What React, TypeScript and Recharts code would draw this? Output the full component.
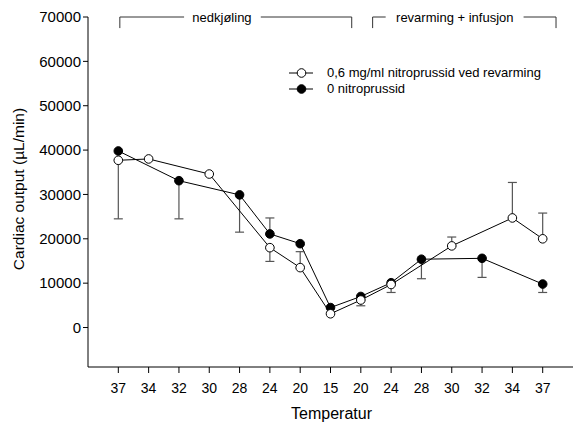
import {
  ComposedChart,
  Line,
  XAxis,
  YAxis,
  ErrorBar,
  ReferenceLine,
  ReferenceDot,
  Legend,
  Label,
} from "recharts"

const FONT = '"Liberation Sans", Arial, sans-serif'
const ERR_COLOR = "#555"

// temperature steps: cooling down to 15, then rewarming
const temps = ["37", "34", "32", "30", "28", "24", "20", "15", "20", "24", "28", "30", "32", "34", "37"]

const nitroName = "0,6 mg/ml nitroprussid ved revarming"
const controlName = "0 nitroprussid"

const nitroValues = [37700, 38000, null, 34600, null, 18000, 13500, 3100, 6200, 9700, null, 18400, null, 24700, 20000]
const controlValues = [39800, null, 33100, null, 29900, 21100, 18900, 4500, 7000, 10100, 15400, null, 15600, null, 9800]

// [down, up]
const nitroErr = [[13200, 0], null, null, null, null, [3100, 0], [0, 3600], null, [1300, 0], [1800, 0], null, [0, 2000], null, [0, 8000], [0, 5800]]
const controlErr = [null, null, [8600, 0], null, [8400, 0], [0, 3600], null, null, null, null, [4400, 0], null, [4300, 0], null, [1900, 0]]

const yTicks = [0, 10000, 20000, 30000, 40000, 50000, 60000, 70000]
const xTicks = temps.map((_, i) => i)

const data = temps.map((t, i) => ({
  i,
  temp: t,
  nitro: nitroValues[i],
  control: controlValues[i],
  nitroErr: nitroErr[i],
  controlErr: controlErr[i],
}))

function LegendBox() {
  const rows = [
    { name: nitroName, fill: "#fff" },
    { name: controlName, fill: "#000" },
  ]
  return (
    <div style={{ fontFamily: FONT, fontSize: 13, color: "#000", lineHeight: "16px" }}>
      {rows.map((r) => (
        <div key={r.name} style={{ display: "flex", alignItems: "center", whiteSpace: "nowrap" }}>
          <svg width={40} height={16}>
            <line x1={2} y1={8} x2={26} y2={8} stroke="#000" strokeWidth={1} />
            <circle cx={14.5} cy={8} r={4.3} fill={r.fill} stroke="#000" strokeWidth={1} />
          </svg>
          <span>{r.name}</span>
        </div>
      ))}
    </div>
  )
}

export default function App() {
  return (
    <div style={{ position: "absolute", left: 0, top: 0, width: 573, height: 428, background: "#fff", fontFamily: FONT }}>
      <ComposedChart width={573} height={428} data={data} margin={{ top: 17, right: 0, bottom: 0, left: 0 }}>
        <XAxis
          type="number"
          dataKey="i"
          domain={[-1, 15]}
          ticks={xTicks}
          interval={0}
          tickFormatter={(v: number) => temps[v]}
          tick={{ fontSize: 14, fill: "#000" }}
          tickSize={6}
          tickMargin={10}
          height={61}
          stroke="#000"
        >
          <Label value="Temperatur" position="center" dx={1} dy={16} fontSize={16} fill="#000" />
        </XAxis>
        <YAxis
          type="number"
          domain={[-8900, 70000]}
          ticks={yTicks}
          allowDataOverflow
          tick={{ fontSize: 15, fill: "#000" }}
          tickSize={5}
          tickMargin={2}
          width={88}
          stroke="#000"
        >
          <Label value="Cardiac output (µL/min)" angle={-90} position="center" dx={-26} dy={-3} fontSize={15.5} fill="#000" />
        </YAxis>

        {/* cooling bracket */}
        <ReferenceLine segment={[{ x: 0.05, y: 67500 }, { x: 0.05, y: 70000 }]} stroke="#333" ifOverflow="visible" />
        <ReferenceLine segment={[{ x: 0.05, y: 70000 }, { x: 2.17, y: 70000 }]} stroke="#333" ifOverflow="visible" />
        <ReferenceLine segment={[{ x: 4.7, y: 70000 }, { x: 7.7, y: 70000 }]} stroke="#333" ifOverflow="visible" />
        <ReferenceLine segment={[{ x: 7.7, y: 70000 }, { x: 7.7, y: 67500 }]} stroke="#333" ifOverflow="visible" />
        <ReferenceDot x={3.42} y={70000} r={0} stroke="none" ifOverflow="visible">
          <Label value="nedkjøling" position="center" fontSize={13} fill="#000" />
        </ReferenceDot>

        {/* rewarming bracket */}
        <ReferenceLine segment={[{ x: 8.39, y: 67500 }, { x: 8.39, y: 70000 }]} stroke="#333" ifOverflow="visible" />
        <ReferenceLine segment={[{ x: 8.39, y: 70000 }, { x: 8.82, y: 70000 }]} stroke="#333" ifOverflow="visible" />
        <ReferenceLine segment={[{ x: 13.37, y: 70000 }, { x: 14.44, y: 70000 }]} stroke="#333" ifOverflow="visible" />
        <ReferenceLine segment={[{ x: 14.44, y: 70000 }, { x: 14.44, y: 67500 }]} stroke="#333" ifOverflow="visible" />
        <ReferenceDot x={11.1} y={70000} r={0} stroke="none" ifOverflow="visible">
          <Label value="revarming + infusjon" position="center" fontSize={13} fill="#000" />
        </ReferenceDot>

        <Line
          type="linear"
          dataKey="control"
          name={controlName}
          stroke="#000"
          strokeWidth={1}
          connectNulls
          dot={{ r: 4.3, fill: "#000", stroke: "#000", strokeWidth: 1 }}
          isAnimationActive={false}
        >
          <ErrorBar dataKey="controlErr" direction="y" width={4.5} stroke={ERR_COLOR} strokeWidth={1.2} />
        </Line>
        <Line
          type="linear"
          dataKey="nitro"
          name={nitroName}
          stroke="#000"
          strokeWidth={1}
          connectNulls
          dot={{ r: 4.3, fill: "#fff", stroke: "#000", strokeWidth: 1 }}
          isAnimationActive={false}
        >
          <ErrorBar dataKey="nitroErr" direction="y" width={4.5} stroke={ERR_COLOR} strokeWidth={1.2} />
        </Line>

        <Legend
          layout="vertical"
          align="center"
          verticalAlign="middle"
          content={() => <LegendBox />}
          wrapperStyle={{ left: 287, top: 65, width: 285, height: 34 }}
        />
      </ComposedChart>
    </div>
  )
}
